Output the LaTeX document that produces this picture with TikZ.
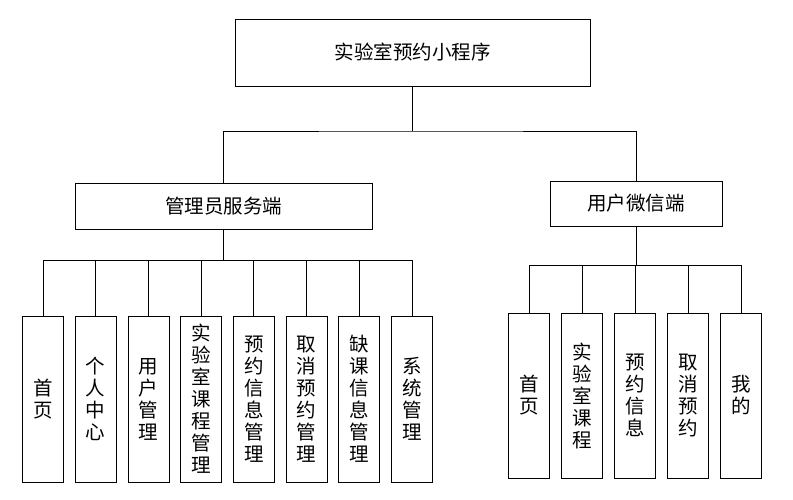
\documentclass[tikz,border=0pt]{standalone}
\usepackage{fontspec}
\setmainfont{Noto Sans CJK SC}
\begin{document}
\begin{tikzpicture}[x=1pt, y=-1pt,
		box/.style={draw, line width=0.8pt, inner sep=0pt, font=\fontsize{19.5}{22}\selectfont},
		leaf/.style={box, minimum width=41pt, minimum height=166pt, align=center}]
	\useasboundingbox (0,0) rectangle (793,499);

	\node[box, minimum width=355pt, minimum height=67pt] (top) at (412.5,52.5) {实验室预约小程序};
	\node[box, minimum width=297pt, minimum height=46pt] (admin) at (223.5,206) {管理员服务端};
	\node[box, minimum width=172pt, minimum height=45pt] (user) at (636,203.5) {用户微信端};

	\coordinate (bus) at (412.5,131);
	\coordinate (lbus) at (223.5,260);
	\coordinate (rbus) at (636,265);

	\draw[line width=0.8pt] (top.south) -- (bus);
	\draw[line width=0.8pt] (admin.north) |- (bus) -| (user.north);
	\draw[line width=0.8pt] (admin.south) -- (lbus);
	\draw[line width=0.8pt] (user.south) -- (rbus);

	% admin side
	\foreach \t [count=\i from 0] in {{首\\页}, {个\\人\\中\\心}, {用\\户\\管\\理}, {实\\验\\室\\课\\程\\管\\理},
			{预\\约\\信\\息\\管\\理}, {取\\消\\预\\约\\管\\理}, {缺\\课\\信\\息\\管\\理}, {系\\统\\管\\理}} {
		\node[leaf] (a\i) at (43+52.7*\i,399) {\t};
		\draw[line width=0.8pt] (a\i.north) |- (lbus);
	}

	% user side
	\foreach \t [count=\i from 0] in {{首\\页}, {实\\验\\室\\课\\程}, {预\\约\\信\\息}, {取\\消\\预\\约}, {我\\的}} {
		\node[leaf, minimum height=165pt] (u\i) at (529+53*\i,395.5) {\t};
		\draw[line width=0.8pt] (u\i.north) |- (rbus);
	}
\end{tikzpicture}
\end{document}
